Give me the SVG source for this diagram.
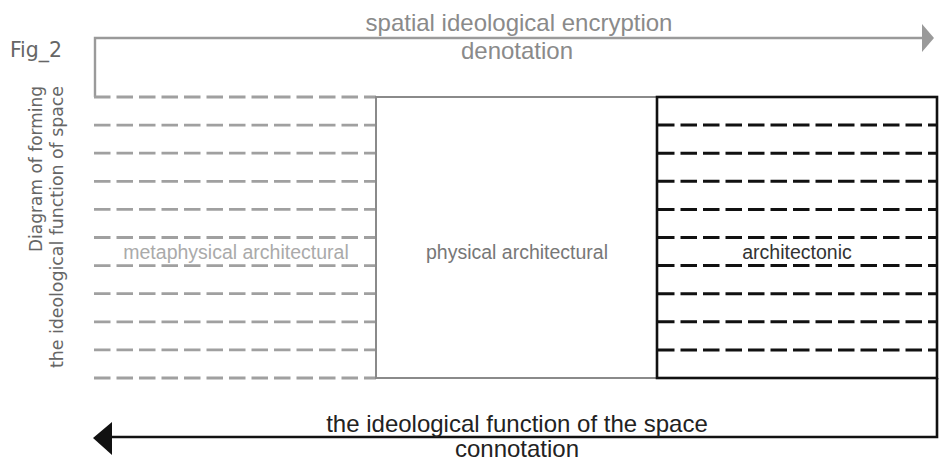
<svg xmlns="http://www.w3.org/2000/svg" width="940" height="461" viewBox="0 0 940 461">
  <style>
    .t { font-family: "Liberation Sans", Arial, sans-serif; font-size: 24px; text-anchor: middle; }
    .lab { font-family: "Liberation Sans", Arial, sans-serif; font-size: 19.5px; text-anchor: middle; }
    .side { font-family: "DejaVu Sans Condensed", "DejaVu Sans", sans-serif; font-size: 17px; fill: #666; }
    .gdash { stroke: #a0a0a0; stroke-width: 2.8; stroke-dasharray: 16.5 6; fill: none; }
    .kdash { stroke: #111; stroke-width: 3; stroke-dasharray: 16.5 6; fill: none; }
  </style>

  <!-- caption -->
  <text x="10" y="57" font-family="DejaVu Sans Condensed, DejaVu Sans, sans-serif" font-size="22" fill="#666" textLength="52" lengthAdjust="spacingAndGlyphs">Fig_2</text>
  <g transform="translate(42,86) rotate(-90)">
    <text class="side" x="0" y="0" text-anchor="end" textLength="166" lengthAdjust="spacingAndGlyphs">Diagram of forming</text>
    <text class="side" x="0" y="21" text-anchor="end" textLength="282" lengthAdjust="spacingAndGlyphs">the ideological function of space</text>
  </g>

  <!-- connectors -->
  <g id="connectors">
    <!-- denotation arrow -->
    <polyline points="95,97 95,38 924,38" fill="none" stroke="#9a9a9a" stroke-width="2.4"/>
    <polygon points="922,24 934,38 922,52" fill="#9a9a9a"/>
    <!-- connotation arrow -->
    <polyline points="937,378 937,437 110,437" fill="none" stroke="#111" stroke-width="2.6"/>
    <polygon points="93,438 112,422 112,455" fill="#111"/>
  </g>

  <g id="metaphysical">
    <path class="gdash" d="M94,97H376 M94,125.1H376 M94,153.2H376 M94,181.3H376 M94,209.4H376 M94,237.5H376 M94,265.6H376 M94,293.7H376 M94,321.8H376 M94,349.9H376 M94,378H376"/>
    <text class="lab" x="236" y="259" fill="#aaa">metaphysical architectural</text>
  </g>

  <g id="physical">
    <rect x="376" y="97" width="281" height="281" fill="#fff" stroke="#8a8a8a" stroke-width="2"/>
    <text class="lab" x="517" y="259" fill="#777">physical architectural</text>
  </g>

  <g id="architectonic">
    <path class="kdash" d="M658,125.1H937 M658,153.2H937 M658,181.3H937 M658,209.4H937 M658,237.5H937 M658,265.6H937 M658,293.7H937 M658,321.8H937 M658,349.9H937"/>
    <rect x="657" y="97" width="280" height="281" fill="none" stroke="#111" stroke-width="2.6"/>
    <text class="lab" x="797" y="259" fill="#333">architectonic</text>
  </g>

  <!-- arrow labels -->
  <text class="t" x="519" y="31" fill="#8a8a8a">spatial ideological encryption</text>
  <text class="t" x="517" y="59" fill="#8a8a8a">denotation</text>
  <text class="t" x="517" y="432" fill="#222">the ideological function of the space</text>
  <text class="t" x="517" y="457" fill="#222">connotation</text>
</svg>
